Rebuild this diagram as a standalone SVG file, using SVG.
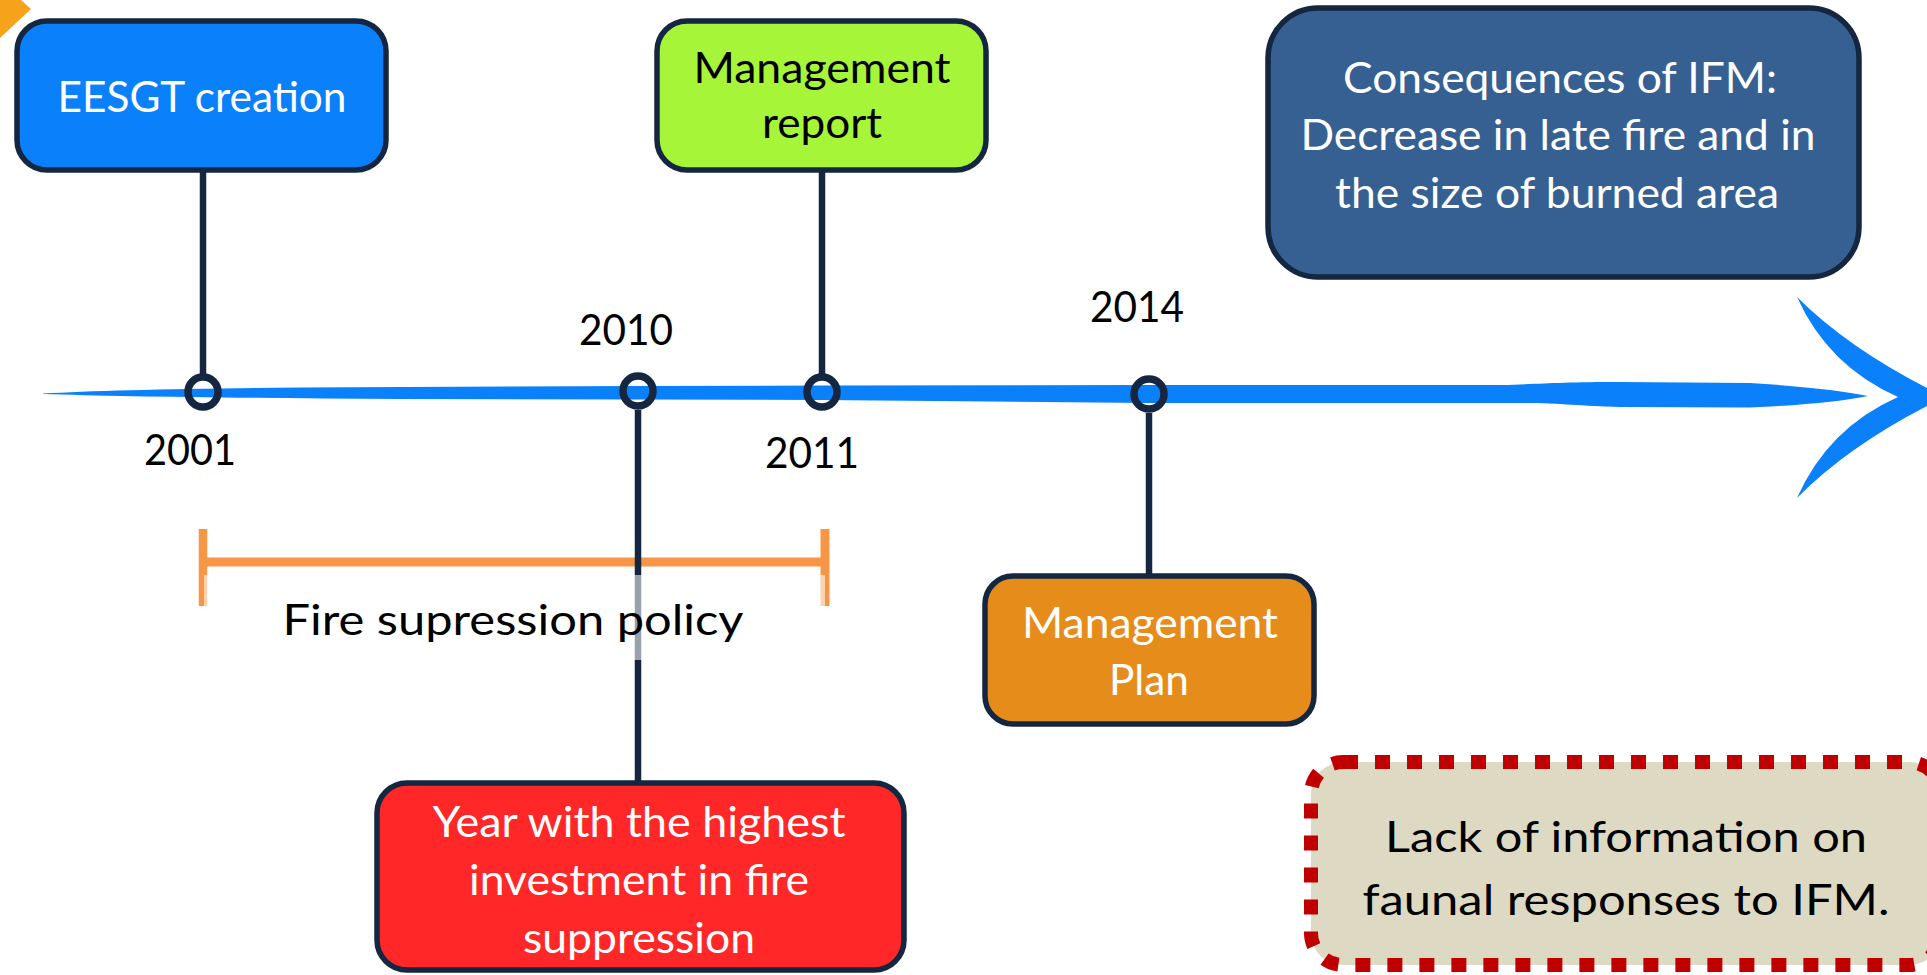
<svg xmlns="http://www.w3.org/2000/svg" width="1927" height="975" viewBox="0 0 1927 975">
  <style>
    .box { stroke: #142640; stroke-width: 5.5; }
    .stem { stroke: #142640; stroke-width: 6.5; fill: none; }
    .dot { stroke: #142640; stroke-width: 7.5; fill: none; }
    .t { font-family: Lato, "Open Sans", "Liberation Sans", sans-serif; font-size: 42px; text-anchor: middle; }
    .w { fill: #ffffff; }
    .k { fill: #000000; }
    .bracket { stroke: #f79646; fill: none; }
  </style>

  <rect width="1927" height="975" fill="#ffffff"/>

  <!-- corner decoration -->
  <polygon points="0,0 21,0 31,9 0,38" fill="#f7a21b"/>

  <!-- brush-stroke timeline with arrow head -->
  <g id="timeline" fill="#0a80fb">
    <path d="M43,393.5 Q120,389 300,387.5 L640,386 L822,385.5 L1150,385 L1500,385 C1540,384 1560,382 1620,382 L1750,383 Q1830,388 1868,396 Q1830,404 1750,407.5 L1620,407 C1580,406 1560,403 1520,403 L1150,403 L822,400 L400,399 Q150,397.5 43,394 Z"/>
    <path d="M1797,297 Q1852,352 1945,397 Q1852,442 1797,498 Q1828,428 1898,397 Q1828,366 1797,297 Z"/>
  </g>

  <!-- fire suppression period bracket -->
  <g id="period">
    <line class="bracket" x1="203" y1="562" x2="825" y2="562" stroke-width="9"/>
    <line class="bracket" x1="203" y1="529" x2="203" y2="606" stroke-width="8.5"/>
    <line class="bracket" x1="825" y1="529" x2="825" y2="606" stroke-width="9"/>
  </g>

  <!-- connectors from the timeline to the event boxes -->
  <g id="connectors">
    <line class="stem" x1="203" y1="171" x2="203" y2="374"/>
    <line class="stem" x1="822" y1="171" x2="822" y2="374"/>
    <line class="stem" x1="638" y1="410" x2="638" y2="781"/>
    <line class="stem" x1="1149" y1="413" x2="1149" y2="575"/>
  </g>

  <!-- label backdrop for the period caption -->
  <rect x="204" y="575" width="621" height="85" fill="#ffffff" fill-opacity="0.57"/>
  <text id="period-label" class="t k" x="513" y="635" textLength="461" lengthAdjust="spacingAndGlyphs">Fire supression policy</text>

  <!-- milestones -->
  <g id="m2001">
    <circle class="dot" cx="203" cy="392" r="15"/>
    <text class="t k" x="190" y="465" textLength="92" lengthAdjust="spacingAndGlyphs">2001</text>
  </g>
  <g id="m2010">
    <circle class="dot" cx="638" cy="391" r="15"/>
    <text class="t k" x="626" y="345" textLength="94" lengthAdjust="spacingAndGlyphs">2010</text>
  </g>
  <g id="m2011">
    <circle class="dot" cx="822" cy="392" r="15"/>
    <text class="t k" x="812" y="468" textLength="94" lengthAdjust="spacingAndGlyphs">2011</text>
  </g>
  <g id="m2014">
    <circle class="dot" cx="1149" cy="394" r="15"/>
    <text class="t k" x="1137" y="322" textLength="94" lengthAdjust="spacingAndGlyphs">2014</text>
  </g>

  <!-- event boxes -->
  <g id="eesgt">
    <rect class="box" x="17" y="21" width="369" height="149" rx="30" fill="#0a80fb"/>
    <text class="t w" x="202" y="112" textLength="289" lengthAdjust="spacingAndGlyphs">EESGT creation</text>
  </g>

  <g id="management-report">
    <rect class="box" x="657" y="21" width="329" height="149" rx="30" fill="#a6f538"/>
    <text class="t k" x="822" y="83" textLength="257" lengthAdjust="spacingAndGlyphs">Management</text>
    <text class="t k" x="822" y="138" textLength="120" lengthAdjust="spacingAndGlyphs">report</text>
  </g>

  <g id="consequences">
    <rect class="box" x="1268" y="8" width="591" height="269" rx="50" fill="#376092"/>
    <text class="t w" x="1560" y="93" textLength="434" lengthAdjust="spacingAndGlyphs">Consequences of IFM:</text>
    <text class="t w" x="1558" y="150" textLength="515" lengthAdjust="spacingAndGlyphs">Decrease in late fire and in</text>
    <text class="t w" x="1557" y="208" textLength="444" lengthAdjust="spacingAndGlyphs">the size of burned area</text>
  </g>

  <g id="management-plan">
    <rect class="box" x="985" y="576" width="329" height="148" rx="28" fill="#e68c1b"/>
    <text class="t w" x="1150" y="638" textLength="256" lengthAdjust="spacingAndGlyphs">Management</text>
    <text class="t w" x="1149" y="695" textLength="80" lengthAdjust="spacingAndGlyphs">Plan</text>
  </g>

  <g id="highest-investment">
    <rect class="box" x="377" y="783" width="527" height="187" rx="30" fill="#ff2727"/>
    <text class="t w" x="639" y="837" textLength="413" lengthAdjust="spacingAndGlyphs">Year with the highest</text>
    <text class="t w" x="639" y="895" textLength="340" lengthAdjust="spacingAndGlyphs">investment in fire</text>
    <text class="t w" x="639" y="953" textLength="232" lengthAdjust="spacingAndGlyphs">suppression</text>
  </g>

  <g id="knowledge-gap">
    <rect x="1311" y="762" width="630" height="203" rx="32" fill="#ddd9c3" stroke="#c00000" stroke-width="14" stroke-dasharray="15 17"/>
    <text class="t k" x="1626" y="852" font-size="44" textLength="482" lengthAdjust="spacingAndGlyphs">Lack of information on</text>
    <text class="t k" x="1626" y="915" font-size="44" textLength="527" lengthAdjust="spacingAndGlyphs">faunal responses to IFM.</text>
  </g>
</svg>
